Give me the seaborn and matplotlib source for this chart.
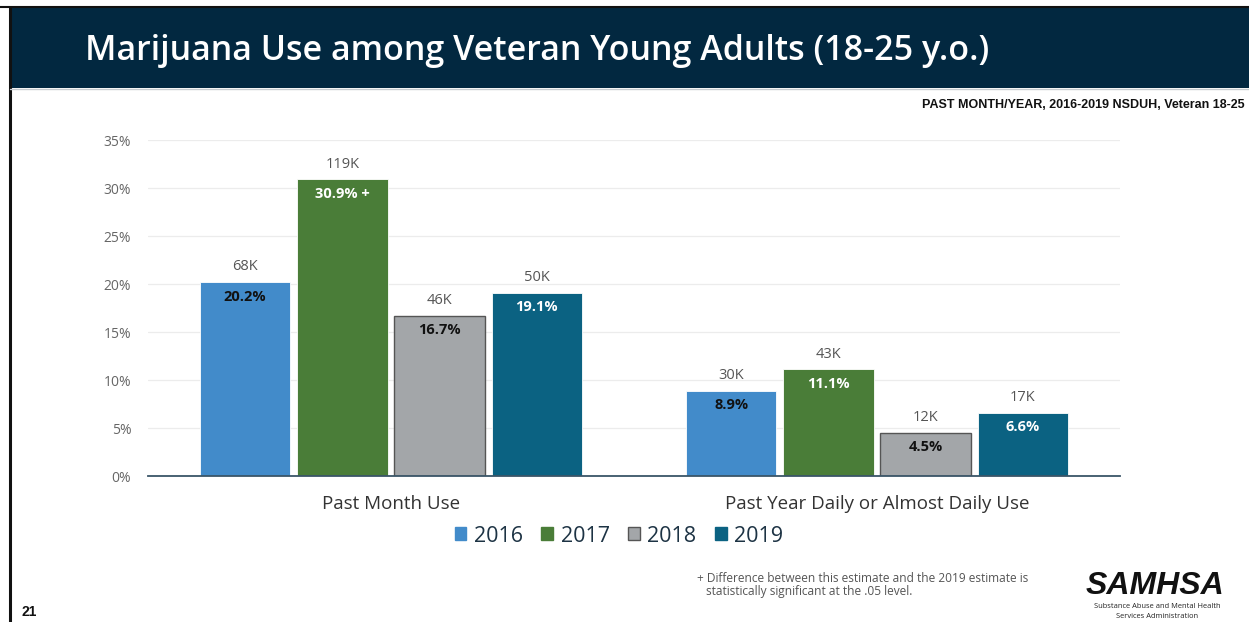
import matplotlib
matplotlib.use("Agg")
import matplotlib.pyplot as plt
from matplotlib.patches import Rectangle, Patch
import seaborn as sns
import pandas as pd

# Survey measures and years
measures = ["Past Month Use", "Past Year Daily or Almost Daily Use"]
years = ["2016", "2017", "2018", "2019"]

# Percent of veteran young adults, per year, per measure
pct_2016 = [20.2, 8.9]
pct_2017 = [30.9, 11.1]
pct_2018 = [16.7, 4.5]
pct_2019 = [19.1, 6.6]

# Estimated number of people, per year, per measure
count_2016 = ["68K", "30K"]
count_2017 = ["119K", "43K"]
count_2018 = ["46K", "12K"]
count_2019 = ["50K", "17K"]

# Significance marker appended to a percent label
sig_2017 = ["+", ""]

yticks = [0, 5, 10, 15, 20, 25, 30, 35]

colors = {"2016": "#428BCA", "2017": "#4A7D38", "2018": "#A3A6A9", "2019": "#0B6282"}
pct_text_color = {"2016": "#111111", "2017": "white", "2018": "#111111", "2019": "white"}

pcts = {"2016": pct_2016, "2017": pct_2017, "2018": pct_2018, "2019": pct_2019}
counts = {"2016": count_2016, "2017": count_2017, "2018": count_2018, "2019": count_2019}
marks = {"2016": ["", ""], "2017": sig_2017, "2018": ["", ""], "2019": ["", ""]}

rows = []
for y in years:
    for m, v in zip(measures, pcts[y]):
        rows.append({"measure": m, "year": y, "pct": v})
df = pd.DataFrame(rows)

sns.set_theme(style="white")
plt.rcParams["font.family"] = ["Open Sans", "DejaVu Sans"]

W, H = 1249, 622
fig = plt.figure(figsize=(W / 100, H / 100), dpi=100)
fig.patch.set_facecolor("white")

# Header band and frame lines
fig.add_artist(Rectangle((10 / W, 1 - 88 / H), 1 - 10 / W, 81 / H,
                         transform=fig.transFigure, facecolor="#022840",
                         edgecolor="none", zorder=0))
fig.add_artist(plt.Line2D([0, 1], [1 - 7 / H, 1 - 7 / H], transform=fig.transFigure,
                          color="#111111", lw=1.5))
fig.add_artist(plt.Line2D([9.5 / W, 9.5 / W], [0, 1 - 7 / H], transform=fig.transFigure,
                          color="#111111", lw=2.2))
fig.add_artist(plt.Line2D([10 / W, 1], [1 - 89 / H, 1 - 89 / H], transform=fig.transFigure,
                          color="#c8ccd0", lw=1))
fig.text(85 / W, 1 - 51 / H, "Marijuana Use among Veteran Young Adults (18-25 y.o.)",
         color="white", fontsize=24.5, fontweight="semibold", va="center", ha="left")

fig.text(1245 / W, 1 - 105 / H, "PAST MONTH/YEAR, 2016-2019 NSDUH, Veteran 18-25",
         fontsize=9, fontweight="bold", ha="right", va="center",
         family=["Liberation Sans", "DejaVu Sans"], color="#111111")

ax = fig.add_axes([148 / W, 1 - 476 / H, 972 / W, 336 / H])
sns.barplot(data=df, x="measure", y="pct", hue="year", hue_order=years, order=measures,
            palette=colors, saturation=1, gap=0.07, width=0.8, ax=ax,
            edgecolor="white", linewidth=0.6, legend=False)

for cont, y in zip(ax.containers, years):
    for i, bar in enumerate(cont):
        if y == "2018":
            bar.set_edgecolor("#555555")
            bar.set_linewidth(1.0)
        xc = bar.get_x() + bar.get_width() / 2
        top = bar.get_height()
        ax.annotate(counts[y][i], (xc, top), xytext=(0, 11), textcoords="offset points",
                    ha="center", va="center", fontsize=10.5, color="#555555")
        ax.annotate(f"{pcts[y][i]:.1f}%" + (" " + marks[y][i] if marks[y][i] else ""),
                    (xc, top), xytext=(0, -10.5), textcoords="offset points",
                    ha="center", va="center", fontsize=10.5, fontweight="bold",
                    color=pct_text_color[y])

ax.set_xlim(-0.5, 1.5)
ax.set_ylim(0, 35)
ax.set_yticks(yticks)
ax.set_yticklabels([f"{t}%" for t in yticks], fontsize=10, color="#666666")
ax.tick_params(axis="y", length=0, pad=12)
ax.tick_params(axis="x", length=0, pad=14, labelsize=13.5, labelcolor="#333333")
ax.set_xlabel("")
ax.set_ylabel("")
ax.grid(axis="y", color="#ececec", lw=0.9)
ax.set_axisbelow(True)
for s in ["top", "right", "left"]:
    ax.spines[s].set_visible(False)
ax.spines["bottom"].set_color("#3a5568")
ax.spines["bottom"].set_linewidth(1.3)
ax.set_facecolor("white")

handles = [Patch(facecolor=colors[y], edgecolor=("#555555" if y == "2018" else colors[y]),
                 lw=1) for y in years]
fig.legend(handles, years, loc="center", bbox_to_anchor=(619 / W, 1 - 536 / H), ncol=4,
           frameon=False, fontsize=15.5, handlelength=0.55, handleheight=0.55,
           handletextpad=0.35, columnspacing=0.85, labelcolor="#1d3344")

fig.text(697 / W, 1 - 578 / H, "+ Difference between this estimate and the 2019 estimate is",
         fontsize=8.6, color="#555555", va="center", ha="left")
fig.text(706 / W, 1 - 591 / H, "statistically significant at the .05 level.",
         fontsize=8.6, color="#555555", va="center", ha="left")

fig.text(1155 / W, 1 - 586 / H, "SAMHSA", fontsize=23, fontweight="bold", style="italic",
         ha="center", va="center", family=["Liberation Sans", "DejaVu Sans"], color="#111111")
fig.text(1157 / W, 1 - 607 / H, "Substance Abuse and Mental Health", fontsize=5.4,
         ha="center", va="center", color="#222222")
fig.text(1157 / W, 1 - 616 / H, "Services Administration", fontsize=5.4,
         ha="center", va="center", color="#222222")

fig.text(22 / W, 1 - 612 / H, "21", fontsize=10, fontweight="bold", ha="left", va="center",
         family=["Liberation Sans", "DejaVu Sans"], color="#111111")

fig.savefig("out.png", dpi=100)
